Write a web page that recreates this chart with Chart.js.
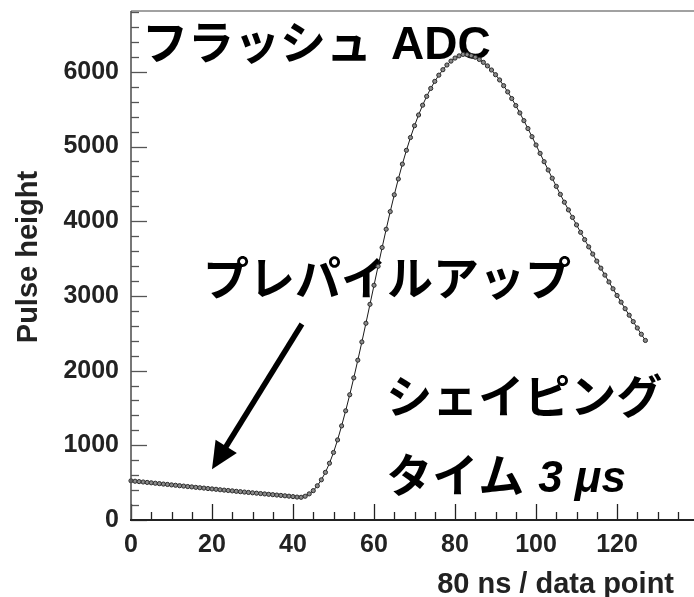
<!DOCTYPE html>
<html>
<head>
<meta charset="utf-8">
<script src="https://cdn.jsdelivr.net/npm/chart.js@4.4.0/dist/chart.umd.min.js"></script>
<style>
  html, body { margin: 0; padding: 0; background: #ffffff; }
  #wrap { width: 694px; height: 597px; }
</style>
</head>
<body>
<div id="wrap"><canvas id="pulse" width="694" height="597"></canvas></div>
<script>
// Flash-ADC samples of one pulse: sample number and recorded pulse height
const sampleIndex = Array.from({ length: 128 }, (_, i) => i);
const pulseHeight = [
  525, 519, 514, 509, 503, 498, 492, 487, 481, 476,
  470, 465, 459, 454, 448, 443, 437, 432, 427, 421,
  416, 411, 405, 400, 395, 390, 384, 379, 374, 369,
  364, 359, 354, 349, 344, 339, 334, 329, 324, 319,
  313, 307, 304,
  318, 350, 393, 458, 538, 638, 760, 904, 1072, 1260,
  1462, 1677, 1903, 2140, 2384, 2634, 2888, 3143, 3397, 3648,
  3893, 4129, 4354, 4566, 4765, 4950, 5121, 5279, 5423, 5554,
  5672, 5778, 5873, 5956, 6029, 6092, 6144, 6185, 6214, 6234,
  6230, 6217, 6196, 6166, 6127, 6080, 6025, 5962, 5892, 5815,
  5732, 5643, 5549, 5450, 5347, 5241, 5132, 5021, 4909, 4797,
  4686, 4576, 4467, 4360, 4255, 4152, 4051, 3951, 3852, 3754,
  3657, 3561, 3466, 3372, 3279, 3187, 3096, 3006, 2917, 2829,
  2742, 2656, 2571, 2487, 2404
];

// Axis ranges and labelled ticks
const xRange = [0, 139];
const yRange = [0, 6815];
const xTickLabels = [0, 20, 40, 60, 80, 100, 120];
const yTickLabels = [0, 1000, 2000, 3000, 4000, 5000, 6000];
const xMinorStep = 5;
const yMinorStep = 200;
const xTitle = '80 ns / data point';
const yTitle = 'Pulse height';

// Text notes, anchored in data units (x = sample, y = pulse height at text baseline)
const notes = [
  { text: 'フラッシュ', x: 2.7, y: 6174, tail: 'ADC', gap: 19, tailFont: 'bold 46px "Liberation Sans", Arial, sans-serif' },
  { text: 'プレパイルアップ', x: 17.8, y: 3013 },
  { text: 'シェイピング', x: 63.0, y: 1433 },
  { text: 'タイム', x: 63.0, y: 375, tail: '3 μs', gap: 14, tailFont: 'italic bold 44px "Liberation Sans", Arial, sans-serif' }
];
// Arrow pointing at the pile-up baseline
const arrowFrom = { x: 42.2, y: 2624 };
const arrowTo = { x: 20.0, y: 679 };

const JP = 'bold 46px "Noto Sans CJK JP", "Liberation Sans", sans-serif';

const notesPlugin = {
  id: 'notes',
  beforeDatasetsDraw(chart) {
    const { ctx, scales: { x, y } } = chart;
    ctx.save();
    ctx.fillStyle = '#000';
    ctx.textBaseline = 'alphabetic';
    ctx.textAlign = 'left';
    notes.forEach(n => {
      const px = x.getPixelForValue(n.x);
      const py = y.getPixelForValue(n.y);
      ctx.font = JP;
      ctx.fillText(n.text, px, py);
      if (n.tail) {
        const w = ctx.measureText(n.text).width;
        ctx.font = n.tailFont;
        ctx.fillText(n.tail, px + w + n.gap, py);
      }
    });

    // arrow: thick shaft with a filled head
    const x0 = x.getPixelForValue(arrowFrom.x), y0 = y.getPixelForValue(arrowFrom.y);
    const x1 = x.getPixelForValue(arrowTo.x), y1 = y.getPixelForValue(arrowTo.y);
    const len = Math.hypot(x1 - x0, y1 - y0);
    const ux = (x1 - x0) / len, uy = (y1 - y0) / len;
    const headLen = 27, headHalf = 12.5;
    const bx = x1 - ux * headLen, by = y1 - uy * headLen;
    ctx.strokeStyle = '#000';
    ctx.lineWidth = 5.5;
    ctx.lineCap = 'butt';
    ctx.beginPath();
    ctx.moveTo(x0, y0);
    ctx.lineTo(bx + ux * 2, by + uy * 2);
    ctx.stroke();
    ctx.beginPath();
    ctx.moveTo(x1, y1);
    ctx.lineTo(bx - uy * headHalf, by + ux * headHalf);
    ctx.lineTo(bx + uy * headHalf, by - ux * headHalf);
    ctx.closePath();
    ctx.fill();
    ctx.restore();
  }
};

const framePlugin = {
  id: 'frame',
  afterDraw(chart) {
    const { ctx, chartArea: a, scales: { x, y } } = chart;
    ctx.save();
    // inward minor and major ticks on the left axis
    ctx.strokeStyle = '#555';
    ctx.lineWidth = 1.3;
    for (let v = yRange[0]; v <= yRange[1]; v += yMinorStep) {
      const py = Math.round(y.getPixelForValue(v)) + 0.5;
      const major = v % 1000 === 0;
      ctx.beginPath();
      ctx.moveTo(a.left, py);
      ctx.lineTo(a.left + (major ? 16 : 8), py);
      ctx.stroke();
    }
    // inward minor and major ticks on the bottom axis
    ctx.strokeStyle = '#222';
    for (let v = xRange[0]; v <= xRange[1]; v += xMinorStep) {
      const px = Math.round(x.getPixelForValue(v)) + 0.5;
      const major = v % 20 === 0;
      ctx.beginPath();
      ctx.moveTo(px, a.bottom);
      ctx.lineTo(px, a.bottom - (major ? 16 : 8));
      ctx.stroke();
    }
    // frame lines
    ctx.strokeStyle = '#444';
    ctx.lineWidth = 1.2;
    ctx.beginPath();
    ctx.moveTo(a.left, a.top);
    ctx.lineTo(a.right, a.top);
    ctx.stroke();
    ctx.strokeStyle = '#555';
    ctx.lineWidth = 1.6;
    ctx.beginPath();
    ctx.moveTo(a.left, a.top);
    ctx.lineTo(a.left, a.bottom);
    ctx.stroke();
    ctx.strokeStyle = '#222';
    ctx.lineWidth = 2.2;
    ctx.beginPath();
    ctx.moveTo(a.left - 1, a.bottom);
    ctx.lineTo(a.right, a.bottom);
    ctx.stroke();

    // axis titles
    ctx.fillStyle = '#222';
    ctx.font = 'bold 29px "Liberation Sans", Arial, sans-serif';
    ctx.textAlign = 'right';
    ctx.textBaseline = 'alphabetic';
    ctx.fillText(xTitle, 674, 592.5);
    ctx.save();
    ctx.translate(37, 257);
    ctx.rotate(-Math.PI / 2);
    ctx.textAlign = 'center';
    ctx.fillText(yTitle, 0, 0);
    ctx.restore();
    ctx.restore();
  }
};

const tickFont = { family: '"Liberation Sans", Arial, sans-serif', size: 25, weight: 'bold' };

// fixed axis box sizes, without the extra edge padding reserved for end labels
function fixBox(size) {
  return s => {
    if (s.isHorizontal()) s.height = size; else s.width = size;
    s.paddingTop = 0; s.paddingBottom = 0; s.paddingLeft = 0; s.paddingRight = 0;
  };
}

new Chart(document.getElementById('pulse'), {
  type: 'line',
  data: {
    datasets: [{
      data: sampleIndex.map((s, i) => ({ x: s, y: pulseHeight[i] })),
      borderColor: '#1a1a1a',
      borderWidth: 1,
      pointRadius: 2.1,
      pointBorderWidth: 1,
      pointBorderColor: '#2a2a2a',
      pointBackgroundColor: '#8a8a8a',
      tension: 0,
      fill: false,
      clip: false
    }]
  },
  options: {
    responsive: false,
    animation: false,
    devicePixelRatio: 1,
    layout: { autoPadding: false, padding: { top: 11, left: 0, right: 0, bottom: 0 } },
    plugins: { legend: { display: false }, tooltip: { enabled: false } },
    scales: {
      x: {
        type: 'linear',
        min: xRange[0],
        max: xRange[1],
        grid: { display: false, drawTicks: false },
        border: { display: false },
        ticks: {
          font: tickFont, color: '#222', padding: 10,
          maxRotation: 0, autoSkip: false,
          callback: v => String(v)
        },
        afterBuildTicks: s => { s.ticks = xTickLabels.map(v => ({ value: v })); },
        afterFit: fixBox(77)
      },
      y: {
        type: 'linear',
        min: yRange[0],
        max: yRange[1],
        grid: { display: false, drawTicks: false },
        border: { display: false },
        ticks: {
          font: tickFont, color: '#222', padding: 12,
          autoSkip: false,
          callback: v => String(v)
        },
        afterBuildTicks: s => { s.ticks = yTickLabels.map(v => ({ value: v })); },
        afterFit: fixBox(131)
      }
    }
  },
  plugins: [notesPlugin, framePlugin]
});
</script>
</body>
</html>
